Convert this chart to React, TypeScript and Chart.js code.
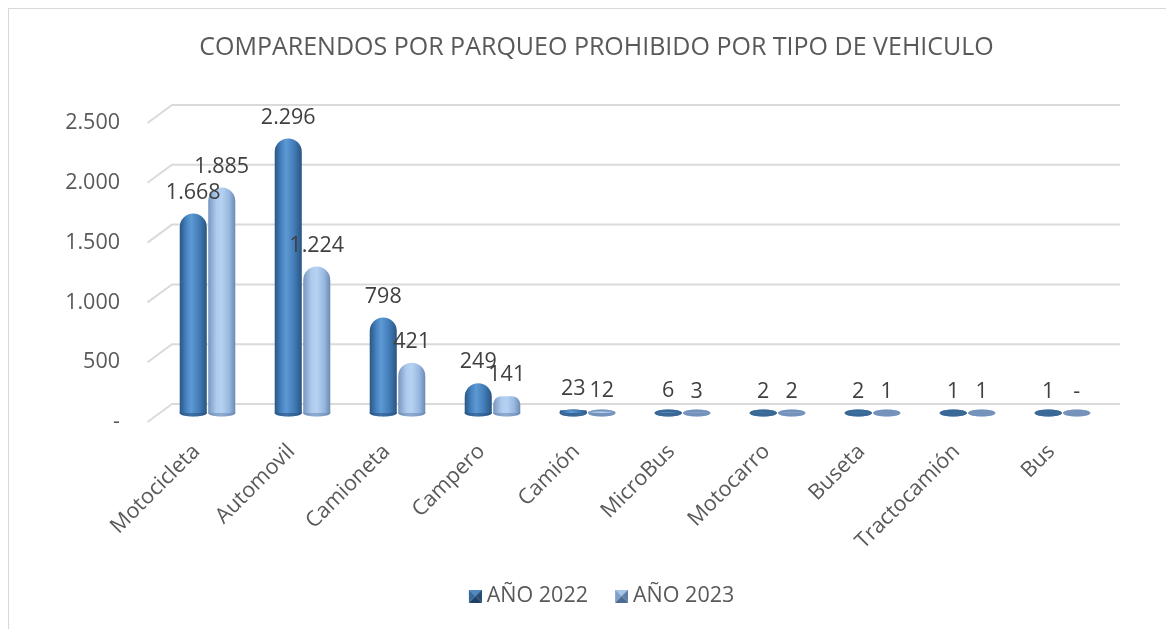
import React, { useEffect, useRef } from "react";
import { Chart, registerables } from "chart.js";

Chart.register(...registerables);

const categories = ["Motocicleta", "Automovil", "Camioneta", "Campero", "Camión", "MicroBus", "Motocarro", "Buseta", "Tractocamión", "Bus"];
const values2022 = [1668, 2296, 798, 249, 23, 6, 2, 2, 1, 1];
const values2023 = [1885, 1224, 421, 141, 12, 3, 2, 1, 1, 0];
const seriesLabels = ["AÑO 2022", "AÑO 2023"];
const yMax = 2500;
const yStep = 500;
const titleText = "COMPARENDOS POR PARQUEO PROHIBIDO POR TIPO DE VEHICULO";

const FONT = "'Open Sans', 'DejaVu Sans', sans-serif";
const TEXT = "#595959";
const FS = 21.5;

const darkStops: [number, string][] = [
  [0, "#2a5684"],
  [0.25, "#4884c2"],
  [0.42, "#5d99d3"],
  [0.7, "#447fbb"],
  [1, "#295581"],
];
const lightStops: [number, string][] = [
  [0, "#7895bd"],
  [0.3, "#aecbee"],
  [0.5, "#b6d2f1"],
  [0.78, "#97b7e0"],
  [1, "#6c89b1"],
];
const baseColors = ["#3a6996", "#7592bb"];

const fmt = (n: number) => (n === 0 ? "-" : String(n).replace(/\B(?=(\d{3})+(?!\d))/g, "."));

function makeGradient(ctx: CanvasRenderingContext2D, x0: number, x1: number, stops: [number, string][]) {
  const g = ctx.createLinearGradient(x0, 0, x1, 0);
  stops.forEach(([o, c]) => g.addColorStop(o, c));
  return g;
}

function scriptedFill(stops: [number, string][], solid: string) {
  return (c: any) => {
    const chart = c.chart;
    const area = chart.chartArea;
    const xs = chart.scales && chart.scales.x;
    if (!area || !xs || c.type !== "data") return solid;
    const cw = (area.right - area.left) / categories.length;
    const slot = (cw * 0.6) / 2;
    const cx = xs.getPixelForValue(c.dataIndex) + (c.datasetIndex === 0 ? -slot / 2 : slot / 2);
    const w = slot * 0.95;
    return makeGradient(chart.ctx, cx - w / 2, cx + w / 2, stops);
  };
}

// legend marker: 13px bevelled square placed at the right side of a wider transparent canvas
function makeMarker(light: boolean) {
  const s = 13;
  const W = 29;
  const cv = document.createElement("canvas");
  cv.width = W;
  cv.height = s;
  const c = cv.getContext("2d")!;
  const cols = light
    ? ["#a8c6ea", "#5f7fa8", "#4c6a92", "#7f9fca"]
    : ["#4f88c2", "#264d76", "#1f4166", "#356aa0"];
  const ox = W - s;
  const tri = (pts: number[][], col: string) => {
    c.beginPath();
    c.moveTo(ox + pts[0][0], pts[0][1]);
    pts.slice(1).forEach((p) => c.lineTo(ox + p[0], p[1]));
    c.closePath();
    c.fillStyle = col;
    c.fill();
  };
  const m = s / 2;
  tri([[0, 0], [s, 0], [m, m]], cols[0]);
  tri([[s, 0], [s, s], [m, m]], cols[1]);
  tri([[0, s], [s, s], [m, m]], cols[2]);
  tri([[0, 0], [0, s], [m, m]], cols[3]);
  return cv;
}

const wallPlugin = {
  id: "wall3d",
  beforeDatasetsDraw(chart: any) {
    const { ctx, chartArea, scales } = chart;
    const y = scales.y;
    ctx.save();
    ctx.strokeStyle = "#dadada";
    ctx.lineWidth = 2;
    for (let v = 0; v <= yMax; v += yStep) {
      const yy = y.getPixelForValue(v);
      ctx.beginPath();
      ctx.moveTo(chartArea.left - 12.5, yy + 9);
      ctx.lineTo(chartArea.left + 12, yy - 9);
      ctx.lineTo(chartArea.right + 10, yy - 9);
      ctx.stroke();
    }
    chart.data.datasets.forEach((_: any, di: number) => {
      const meta = chart.getDatasetMeta(di);
      meta.data.forEach((el: any) => {
        const w = el.width;
        ctx.beginPath();
        ctx.ellipse(el.x, el.base, w / 2, 3.5, 0, 0, Math.PI * 2);
        ctx.fillStyle = makeGradient(ctx, el.x - w / 2, el.x + w / 2, di === 0 ? darkStops : lightStops);
        ctx.fill();
        ctx.beginPath();
        ctx.ellipse(el.x, el.base, w / 2, 3.5, 0, 0, Math.PI * 2);
        ctx.fillStyle = di === 0 ? "rgba(40,80,125,0.55)" : "rgba(100,130,170,0.5)";
        if (Math.abs(el.base - el.y) < 6) ctx.fillStyle = baseColors[di];
        ctx.fill();
      });
    });
    ctx.restore();
  },
  afterDatasetsDraw(chart: any) {
    const { ctx } = chart;
    ctx.save();
    ctx.font = `${FS}px ${FONT}`;
    ctx.fillStyle = "#404040";
    ctx.textAlign = "center";
    ctx.textBaseline = "middle";
    chart.data.datasets.forEach((ds: any, di: number) => {
      const meta = chart.getDatasetMeta(di);
      meta.data.forEach((el: any, i: number) => {
        ctx.fillText(fmt(ds.data[i]), el.x, el.y - 21);
      });
    });
    ctx.restore();
  },
};

export default function App() {
  const ref = useRef<HTMLCanvasElement>(null);
  useEffect(() => {
    if (!ref.current) return;
    const markers = [makeMarker(false), makeMarker(true)];
    const chart = new Chart(ref.current, {
      type: "bar",
      data: {
        labels: categories,
        datasets: [
          {
            label: seriesLabels[0],
            data: values2022,
            backgroundColor: scriptedFill(darkStops, "#4a86c5"),
            borderWidth: 0,
            borderRadius: { topLeft: 14, topRight: 14, bottomLeft: 0, bottomRight: 0 },
            borderSkipped: false,
            categoryPercentage: 0.6,
            barPercentage: 0.95,
          },
          {
            label: seriesLabels[1],
            data: values2023,
            backgroundColor: scriptedFill(lightStops, "#a9c8ec"),
            borderWidth: 0,
            borderRadius: { topLeft: 14, topRight: 14, bottomLeft: 0, bottomRight: 0 },
            borderSkipped: false,
            categoryPercentage: 0.6,
            barPercentage: 0.95,
          },
        ],
      },
      options: {
        responsive: false,
        animation: false,
        layout: { padding: { left: 10, right: 0, top: 0, bottom: 12.25 } },
        plugins: {
          title: {
            display: true,
            text: titleText,
            color: TEXT,
            font: { family: FONT, size: 25, weight: "normal" },
            padding: { top: 23.5, bottom: 51.5 },
          },
          legend: {
            position: "bottom",
            labels: {
              color: TEXT,
              font: { family: FONT, size: FS },
              usePointStyle: true,
              boxWidth: 17.25,
              boxHeight: 13,
              padding: 17,
              generateLabels: (ch: any) => {
                const base = (Chart.defaults.plugins.legend.labels as any).generateLabels(ch);
                return base.map((it: any, i: number) => ({ ...it, pointStyle: markers[i] }));
              },
            },
          },
          tooltip: { enabled: false },
        },
        scales: {
          x: {
            grid: { display: false, drawTicks: false },
            border: { display: false },
            ticks: {
              color: TEXT,
              font: { family: FONT, size: FS },
              minRotation: 45,
              maxRotation: 45,
              padding: 26,
              labelOffset: -11,
              autoSkip: false,
            },
            afterFit: (s: any) => {
              s.height = 155.25;
            },
          },
          y: {
            min: 0,
            max: yMax,
            grid: { display: false, drawTicks: false },
            border: { display: false },
            ticks: {
              stepSize: yStep,
              color: TEXT,
              font: { family: FONT, size: FS },
              padding: 40,
              labelOffset: 9,
              callback: (v: any) => fmt(Number(v)),
            },
            afterFit: (s: any) => {
              s.width = 141;
            },
          },
          yRight: {
            position: "right",
            display: true,
            min: 0,
            max: yMax,
            grid: { display: false, drawTicks: false },
            border: { display: false },
            ticks: { display: false },
            afterFit: (s: any) => {
              s.width = 64;
            },
          },
        },
      },
      plugins: [wallPlugin],
    } as any);
    return () => chart.destroy();
  }, []);
  return (
    <div
      style={{
        width: 1166,
        height: 621,
        boxSizing: "border-box",
        borderTop: "1px solid #d9d9d9",
        borderLeft: "1px solid #d9d9d9",
        background: "#fff",
        overflow: "hidden",
      }}
    >
      <canvas ref={ref} width={1165} height={620} style={{ display: "block" }} />
    </div>
  );
}
